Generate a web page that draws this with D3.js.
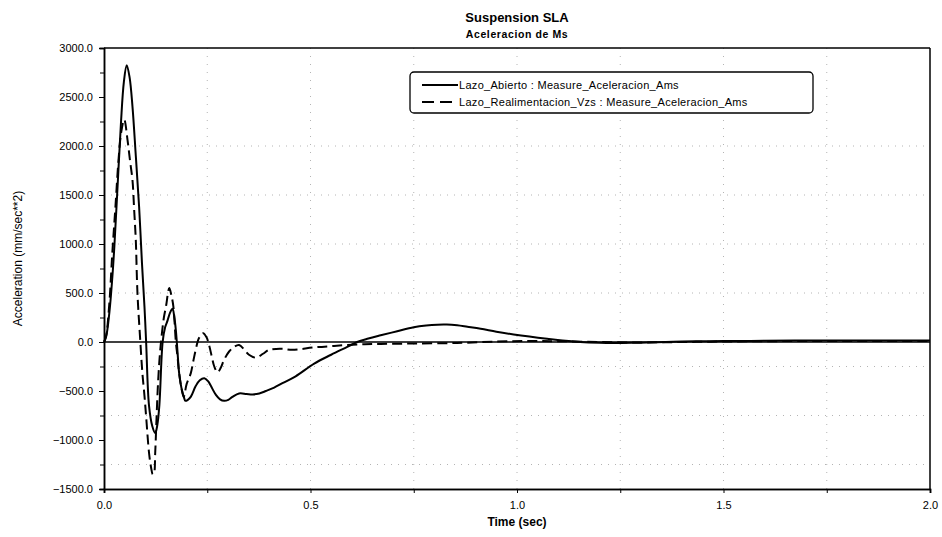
<!DOCTYPE html>
<html><head><meta charset="utf-8">
<script src="https://cdn.jsdelivr.net/npm/d3@7"></script>
<style>body{margin:0;background:#fff}svg{display:block}</style>
</head><body><svg id="c" width="942" height="537"></svg>
<script>
const titleText = "Suspension SLA";
const subtitleText = "Aceleracion de Ms";
const xLabel = "Time (sec)";
const yLabel = "Acceleration (mm/sec**2)";
const seriesNames = ["Lazo_Abierto : Measure_Aceleracion_Ams", "Lazo_Realimentacion_Vzs : Measure_Aceleracion_Ams"];
const xTicks = [0, 0.5, 1.0, 1.5, 2.0];
const xMinorTicks = [0.25, 0.75, 1.25, 1.75];
const yTicks = [3000, 2500, 2000, 1500, 1000, 500, 0, -500, -1000, -1500];
const yMinorTicks = [2750, 2250, 1750, 1250, 750, 250, -250, -750, -1250];
const yGrid = [2000, 1500, 1000, 500, -250, -750, -1250];
const xGrid = [0.25, 0.5, 0.75, 1.0, 1.25, 1.5, 1.75];

const timeA = [0, 0.005, 0.013, 0.02, 0.025, 0.033, 0.041, 0.048, 0.055, 0.062, 0.069, 0.077, 0.085, 0.092, 0.098, 0.102, 0.109, 0.117, 0.124, 0.129, 0.134, 0.142, 0.148, 0.154, 0.160, 0.166, 0.170, 0.174, 0.178, 0.182, 0.188, 0.194, 0.197, 0.203, 0.210, 0.222, 0.232, 0.243, 0.252, 0.259, 0.271, 0.281, 0.291, 0.301, 0.311, 0.327, 0.345, 0.36, 0.376, 0.392, 0.412, 0.432, 0.464, 0.509, 0.55, 0.589, 0.613, 0.64, 0.67, 0.71, 0.75, 0.78, 0.807, 0.83, 0.855, 0.88, 0.912, 0.95, 0.992, 1.03, 1.073, 1.11, 1.153, 1.2, 1.234, 1.28, 1.315, 1.36, 1.4, 1.45, 1.5, 1.6, 1.7, 1.8, 1.9, 2.0];
const valA = [0, 50, 300, 650, 970, 1600, 2230, 2650, 2825, 2700, 2400, 1900, 1380, 800, 360, 0, -650, -860, -930, -850, -650, 0, 150, 220, 300, 340, 260, 120, -100, -320, -480, -570, -600, -590, -560, -450, -390, -370, -400, -450, -540, -585, -600, -590, -560, -525, -530, -535, -525, -500, -465, -420, -350, -220, -130, -50, 0, 35, 68, 110, 150, 168, 177, 178, 170, 155, 135, 105, 77, 55, 33, 15, 0, -8, -10, -8, -5, 0, 5, 8, 10, 12, 15, 15, 15, 15];

const timeB = [0, 0.005, 0.013, 0.02, 0.028, 0.035, 0.042, 0.049, 0.057, 0.063, 0.069, 0.073, 0.077, 0.081, 0.088, 0.093, 0.098, 0.102, 0.109, 0.114, 0.118, 0.121, 0.124, 0.127, 0.13, 0.134, 0.138, 0.145, 0.15, 0.158, 0.163, 0.168, 0.174, 0.178, 0.182, 0.188, 0.193, 0.2, 0.21, 0.216, 0.222, 0.23, 0.24, 0.248, 0.255, 0.261, 0.267, 0.275, 0.283, 0.291, 0.303, 0.315, 0.327, 0.34, 0.351, 0.368, 0.385, 0.40, 0.432, 0.456, 0.509, 0.557, 0.613, 0.67, 0.75, 0.855, 0.952, 1.03, 1.1, 1.2, 1.3, 1.4, 1.5, 1.6, 1.7, 1.8, 1.9, 2.0];
const valB = [0, 60, 400, 900, 1400, 1850, 2150, 2270, 2060, 1850, 1650, 1350, 1040, 500, 0, -320, -550, -760, -1130, -1280, -1350, -1340, -1130, -800, -490, -200, 0, 250, 360, 550, 480, 360, 0, -150, -320, -480, -560, -430, -320, -200, -80, 40, 90, 50, -40, -150, -250, -310, -260, -180, -97, -50, -30, -80, -130, -160, -120, -80, -70, -80, -55, -40, -25, -20, -15, -10, 5, 10, 8, 0, -5, 0, 5, 8, 10, 10, 10, 10];

const W = 942, H = 537;
const m = {left: 104, right: 930, top: 48, bottom: 489};
const svg = d3.select("#c");
svg.append("rect").attr("width", W).attr("height", H).attr("fill", "#fff");

const x = d3.scaleLinear().domain([0, 2]).range([m.left, m.right]);
const y = d3.scaleLinear().domain([-1500, 3000]).range([m.bottom, m.top]);
const font = "'Liberation Sans', Arial, sans-serif";

// grid
const g = svg.append("g");
g.selectAll(".hg").data(yGrid).join("line")
  .attr("x1", m.left).attr("x2", m.right).attr("y1", d => y(d)).attr("y2", d => y(d))
  .attr("stroke", "#b4b4b4").attr("stroke-width", 1).attr("stroke-dasharray", "1,6");
g.selectAll(".vg").data(xGrid).join("line")
  .attr("y1", m.top).attr("y2", m.bottom).attr("x1", d => x(d)).attr("x2", d => x(d))
  .attr("stroke", "#b4b4b4").attr("stroke-width", 1).attr("stroke-dasharray", "1,7");

// zero line
svg.append("line").attr("x1", m.left).attr("x2", m.right).attr("y1", y(0)).attr("y2", y(0))
  .attr("stroke", "#000").attr("stroke-width", 1.3);

// lines
const lineGen = d3.line().x(d => x(d[0])).y(d => y(d[1])).curve(d3.curveCatmullRom.alpha(0.5));
const dataA = timeA.map((t, i) => [t, valA[i]]);
const dataB = timeB.map((t, i) => [t, valB[i]]);
svg.append("path").attr("d", lineGen(dataB)).attr("fill", "none").attr("stroke", "#000")
  .attr("stroke-width", 2).attr("stroke-dasharray", "10,5");
svg.append("path").attr("d", lineGen(dataA)).attr("fill", "none").attr("stroke", "#000")
  .attr("stroke-width", 2);

// axes
const yAxis = svg.append("g").attr("transform", `translate(${m.left},0)`)
  .call(d3.axisLeft(y).tickValues(yTicks).tickFormat(d3.format(".1f")).tickSize(5).tickPadding(6));
const yMinor = svg.append("g").attr("transform", `translate(${m.left},0)`)
  .call(d3.axisLeft(y).tickValues(yMinorTicks).tickFormat("").tickSize(4));
const xAxis = svg.append("g").attr("transform", `translate(0,${m.bottom})`)
  .call(d3.axisBottom(x).tickValues(xTicks).tickFormat(d3.format(".1f")).tickSize(4).tickPadding(8));
const xMinor = svg.append("g").attr("transform", `translate(0,${m.bottom})`)
  .call(d3.axisBottom(x).tickValues(xMinorTicks).tickFormat("").tickSize(4));
[yAxis, yMinor, xAxis, xMinor].forEach(a => {
  a.select(".domain").attr("stroke", "#000").attr("stroke-width", 1.5);
  a.selectAll(".tick line").attr("stroke", "#000").attr("stroke-width", 1);
  a.selectAll("text").attr("font-family", font).attr("font-size", 11).attr("fill", "#000");
});
// top & right border
svg.append("line").attr("x1", m.left).attr("x2", m.right).attr("y1", m.top).attr("y2", m.top)
  .attr("stroke", "#000").attr("stroke-width", 1.5);
svg.append("line").attr("x1", m.right).attr("x2", m.right).attr("y1", m.top).attr("y2", m.bottom)
  .attr("stroke", "#000").attr("stroke-width", 1.5);

// titles
svg.append("text").attr("x", 517).attr("y", 22).attr("text-anchor", "middle")
  .attr("font-family", "'Liberation Sans Narrow', " + font).attr("font-weight", "bold")
  .attr("font-size", 13).text(titleText);
svg.append("text").attr("x", 517).attr("y", 38).attr("text-anchor", "middle")
  .attr("font-family", font).attr("font-weight", "bold").attr("letter-spacing", 0.6)
  .attr("font-size", 10.5).text(subtitleText);
svg.append("text").attr("x", 517).attr("y", 526).attr("text-anchor", "middle")
  .attr("font-family", "'Liberation Sans Narrow', " + font).attr("font-weight", "bold")
  .attr("font-size", 12).text(xLabel);
svg.append("text").attr("transform", `translate(22,${(m.top + m.bottom) / 2 - 10}) rotate(-90)`)
  .attr("text-anchor", "middle").attr("font-family", font).attr("font-size", 12).text(yLabel);

// legend
const lg = svg.append("g");
lg.append("rect").attr("x", 410).attr("y", 72).attr("width", 403).attr("height", 41).attr("rx", 4)
  .attr("fill", "#fff").attr("stroke", "#000").attr("stroke-width", 1.3);
seriesNames.forEach((name, i) => {
  const yy = 85 + i * 17;
  lg.append("line").attr("x1", 422).attr("x2", 458).attr("y1", yy).attr("y2", yy)
    .attr("stroke", "#000").attr("stroke-width", 2).attr("stroke-dasharray", i === 0 ? null : "12,6");
  lg.append("text").attr("x", 459).attr("y", yy + 4).attr("font-family", font)
    .attr("font-size", 11).attr("letter-spacing", 0.3).text(name);
});
</script></body></html>
